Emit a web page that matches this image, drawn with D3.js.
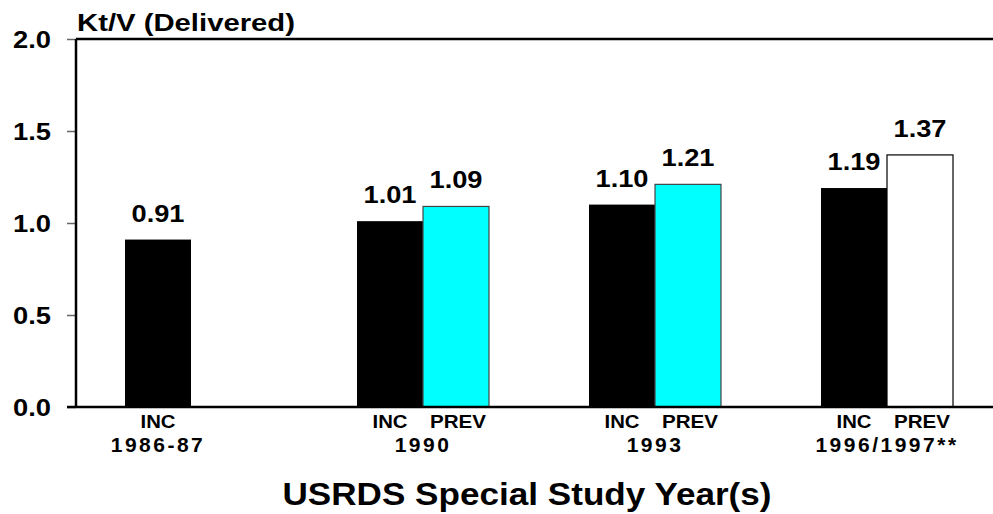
<!DOCTYPE html>
<html><head><meta charset="utf-8">
<script src="https://cdn.jsdelivr.net/npm/d3@7"></script>
<style>
html,body{margin:0;padding:0;background:#fff;}
text{font-family:"Liberation Sans",Arial,sans-serif;font-weight:bold;fill:#000;}
</style></head>
<body><svg id="c" width="993" height="514"></svg>
<script>
const groups = ["1986-87","1990","1993","1996/1997**"];
const seriesKeys = ["INC","PREV"];
const incValues = [0.91, 1.01, 1.10, 1.19];
const prevValues = [null, 1.09, 1.21, 1.37];
const prevColors = [null, "#00FFFF", "#00FFFF", "#FFFFFF"];
const yTicks = [0, 0.5, 1.0, 1.5, 2.0];
const yTitle = "Kt/V (Delivered)";
const xTitle = "USRDS Special Study Year(s)";

const svg = d3.select("#c");
const W = 993;
const y = d3.scaleLinear().domain([0, 2]).range([407, 39]);
const x0 = d3.scaleBand().domain(groups).range([75, 1003]).paddingInner(0.431).paddingOuter(0.2155);
const x1 = d3.scaleBand().domain(seriesKeys).range([0, x0.bandwidth()]);

svg.append("line").attr("x1", 76).attr("x2", W).attr("y1", y(2)).attr("y2", y(2))
  .attr("stroke", "#000").attr("stroke-width", 2.5);

const yAxis = d3.axisLeft(y).tickValues(yTicks).tickFormat(d3.format(".1f")).tickSize(9).tickPadding(0);
const gy = svg.append("g").attr("transform", "translate(76,0)").call(yAxis);
gy.select(".domain").remove();
gy.selectAll(".tick line").attr("stroke", "#666").attr("stroke-width", 1.5);
gy.selectAll(".tick text").attr("x", -25).attr("dy", "0.36em")
  .style("font-size", "24px").attr("textLength", 38).attr("lengthAdjust", "spacingAndGlyphs");
svg.append("line").attr("x1", 76).attr("x2", 76).attr("y1", y(2)).attr("y2", y(0))
  .attr("stroke", "#000").attr("stroke-width", 2.5);

const rows = groups.map((g, i) => ({g, vals: [
  {k: "INC", v: incValues[i], fill: "#000000"},
  {k: "PREV", v: prevValues[i], fill: prevColors[i]}
].filter(d => d.v != null)}));

const gg = svg.append("g").selectAll("g").data(rows).join("g")
  .attr("transform", d => `translate(${x0(d.g)},0)`);
gg.selectAll("rect").data(d => d.vals).join("rect")
  .attr("x", d => x1(d.k)).attr("width", x1.bandwidth())
  .attr("y", d => y(d.v)).attr("height", d => y(0) - y(d.v))
  .attr("fill", d => d.fill)
  .attr("stroke", d => d.k === "INC" ? "none" : (d.fill === "#FFFFFF" ? "#000" : "#444"))
  .attr("stroke-width", 1.2);
gg.selectAll("text.val").data(d => d.vals).join("text").attr("class", "val")
  .attr("x", d => x1(d.k) + x1.bandwidth() / 2).attr("y", d => y(d.v) - 18)
  .attr("text-anchor", "middle").style("font-size", "24px")
  .attr("textLength", 53).attr("lengthAdjust", "spacingAndGlyphs")
  .text(d => d.v.toFixed(2));
gg.selectAll("text.ser").data(d => d.vals).join("text").attr("class", "ser")
  .attr("x", d => x1(d.k) + x1.bandwidth() / 2 + (d.k === "PREV" ? 2 : 0)).attr("y", 428)
  .attr("text-anchor", "middle").style("font-size", "19px")
  .attr("textLength", d => d.k === "INC" ? 35 : 56).attr("lengthAdjust", "spacingAndGlyphs")
  .text(d => d.k);

svg.append("line").attr("x1", 67).attr("x2", W).attr("y1", y(0)).attr("y2", y(0))
  .attr("stroke", "#000").attr("stroke-width", 2.5);

svg.append("g").selectAll("text").data(groups).join("text")
  .attr("x", (d, i) => x0(d) + (i === 0 ? x1.bandwidth() / 2 : x0.bandwidth() / 2))
  .attr("y", 452).attr("text-anchor", "middle").style("font-size", "21px")
  .style("letter-spacing", "2.5px")
  .text(d => d);

svg.append("text").attr("x", 77).attr("y", 31).style("font-size", "23px")
  .attr("textLength", 218).attr("lengthAdjust", "spacingAndGlyphs").text(yTitle);
svg.append("text").attr("x", 527).attr("y", 505).attr("text-anchor", "middle")
  .style("font-size", "31px").attr("textLength", 489).attr("lengthAdjust", "spacingAndGlyphs")
  .text(xTitle);
</script></body></html>
